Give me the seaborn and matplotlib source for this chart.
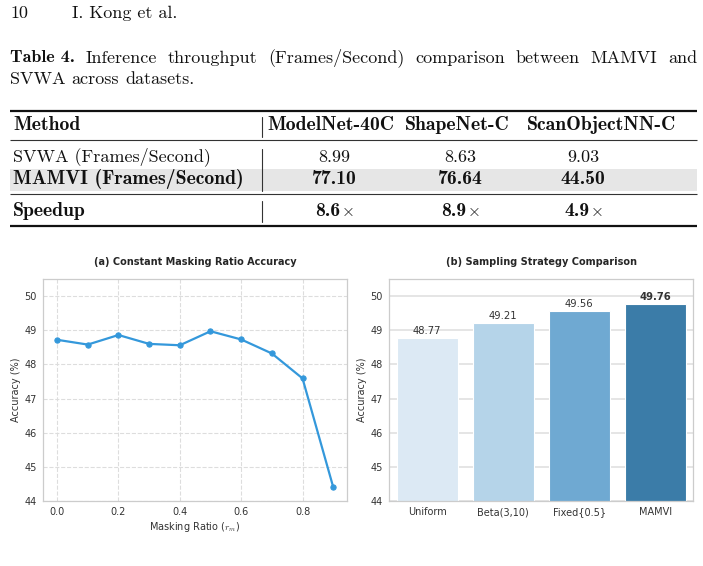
import numpy as np
import pandas as pd
import matplotlib
matplotlib.use("Agg")
import matplotlib.pyplot as plt
from matplotlib.patches import Rectangle
import seaborn as sns

# ---------------- data ----------------
running_page = "10"
running_head = "I. Kong et al."
caption_label = "Table 4."
caption_line1 = "Inference throughput (Frames/Second) comparison between MAMVI and"
caption_line2 = "SVWA across datasets."

table_method_header = "Method"
table_columns = ["ModelNet-40C", "ShapeNet-C", "ScanObjectNN-C"]
row_svwa_label = "SVWA (Frames/Second)"
row_mamvi_label = "MAMVI (Frames/Second)"
row_speedup_label = "Speedup"
svwa_fps = ["8.99", "8.63", "9.03"]
mamvi_fps = ["77.10", "76.64", "44.50"]
speedup = ["8.6", "8.9", "4.9"]

mask_ratio = [0.0, 0.1, 0.2, 0.3, 0.4, 0.5, 0.6, 0.7, 0.8, 0.9]
mask_acc = [48.72, 48.58, 48.86, 48.60, 48.56, 48.97, 48.73, 48.32, 47.59, 44.41]
mask_ticks = [0.0, 0.2, 0.4, 0.6, 0.8]

strategies = ["Uniform", "Beta(3,10)", "Fixed{0.5}", "MAMVI"]
strategy_acc = [48.77, 49.21, 49.56, 49.76]
bar_colors = ["#dce9f4", "#b5d4e9", "#6fa9d2", "#3b7ca8"]

# ---------------- figure ----------------
sns.set_theme(style="whitegrid")
plt.rcParams["mathtext.fontset"] = "cm"

W, H = 703, 566
fig = plt.figure(figsize=(W / 100, H / 100), dpi=100)
fig.patch.set_facecolor("white")

page = fig.add_axes([0, 0, 1, 1], zorder=0)
page.set_xlim(0, W)
page.set_ylim(H, 0)
page.axis("off")

SERIF = "cmr10"
BOLD = "cmb10"
FS_TXT = 13.0
FS_TAB = 13.0
FS_TAB_B = 14.2
INK = "#111111"
renderer = fig.canvas.get_renderer()


def width_px(t):
    return t.get_window_extent(renderer).width


def justify(words, x0, x1, y, fs, bold_first=None):
    items = []
    if bold_first is not None:
        items.append((bold_first, BOLD))
    items += [(w, SERIF) for w in words]
    texts = [page.text(0, y, s, family=f, fontsize=fs, va="center", ha="left",
                       color=INK) for s, f in items]
    widths = [width_px(t) for t in texts]
    gap = ((x1 - x0) - sum(widths)) / (len(texts) - 1)
    x = x0
    for t, w in zip(texts, widths):
        t.set_x(x)
        x += w + gap


def line(x0, y, s, fs):
    sp = page.text(0, y, "a a", family=SERIF, fontsize=fs)
    sp2 = page.text(0, y, "aa", family=SERIF, fontsize=fs)
    space = width_px(sp) - width_px(sp2)
    sp.remove(); sp2.remove()
    x = x0
    for w in s.split(" "):
        t = page.text(x, y, w, family=SERIF, fontsize=fs, va="center", ha="left", color=INK)
        x += width_px(t) + space


# running head
page.text(10, 13, running_page, family=SERIF, fontsize=FS_TXT, va="center", color=INK)
page.text(72, 13, running_head, family=SERIF, fontsize=FS_TXT, va="center", color=INK)

# caption
justify(caption_line1.split(" "), 10, 697, 58, FS_TXT, bold_first=caption_label)
line(10, 79, caption_line2, FS_TXT)

# table
TL, TR = 10, 697
page.plot([TL, TR], [110.5, 110.5], color=INK, lw=1.6, solid_capstyle="butt")
page.plot([TL, TR], [139.5, 139.5], color="#333333", lw=0.8, solid_capstyle="butt")
page.plot([TL, TR], [193.5, 193.5], color="#333333", lw=0.8, solid_capstyle="butt")
page.plot([TL, TR], [226, 226], color=INK, lw=1.6, solid_capstyle="butt")
page.add_patch(Rectangle((TL, 168.5), TR - TL, 22, facecolor="#e6e6e6", edgecolor="none", zorder=0))
for (y0, y1) in [(117, 137), (149, 191), (201, 222)]:
    page.plot([262, 262], [y0, y1], color="#333333", lw=0.8)

head_x = [331, 457, 601]
val_x = [334, 460, 583]
page.text(13, 125, table_method_header, family=BOLD, fontsize=FS_TAB_B, va="center", color=INK)
for x, c in zip(head_x, table_columns):
    page.text(x, 125, c, family=BOLD, fontsize=FS_TAB_B, va="center", ha="center", color=INK)
page.text(13, 157, row_svwa_label, family=SERIF, fontsize=FS_TAB, va="center", color=INK)
page.text(13, 179, row_mamvi_label, family=BOLD, fontsize=FS_TAB_B, va="center", color=INK)
page.text(13, 211, row_speedup_label, family=BOLD, fontsize=FS_TAB_B, va="center", color=INK)
for x, v in zip(val_x, svwa_fps):
    page.text(x, 157, v, family=SERIF, fontsize=FS_TAB, va="center", ha="center", color=INK)
for x, v in zip(val_x, mamvi_fps):
    page.text(x, 179, v, family=BOLD, fontsize=FS_TAB_B, va="center", ha="center", color=INK)
for x, v in zip(val_x, speedup):
    tnum = page.text(0, 211, v, family=BOLD, fontsize=FS_TAB_B, va="center", ha="left", color=INK)
    tx = page.text(0, 211, r"$\times$", fontsize=FS_TAB - 1, va="center", ha="left", color=INK)
    w1, w2 = width_px(tnum), width_px(tx)
    x0 = x - (w1 + w2) / 2
    tnum.set_x(x0)
    tx.set_x(x0 + w1 + 1)

# ---------------- subplot (a) ----------------
TICK_FS = 7.0
LAB_FS = 7.0
TITLE_FS = 7.0
ANN_FS = 7.2
TXT = "#333333"

ax1 = fig.add_axes([43.3 / W, 1 - 501 / H, 303.7 / W, 222 / H], zorder=2)
df_a = pd.DataFrame({"ratio": mask_ratio, "acc": mask_acc})
sns.lineplot(data=df_a, x="ratio", y="acc", ax=ax1, marker="o", color="#3498db",
             linewidth=1.6, markersize=3.8, markeredgecolor="#3498db")
ax1.set_ylim(44, 50.5)
ax1.set_xticks(mask_ticks)
ax1.set_xticklabels([f"{t:.1f}" for t in mask_ticks])
ax1.set_yticks([44, 45, 46, 47, 48, 49, 50])
ax1.grid(True, linestyle="--", color="#dddddd", linewidth=0.8)
ax1.set_title("(a) Constant Masking Ratio Accuracy", fontsize=TITLE_FS, fontweight="bold",
              pad=10, color="#262626")
ax1.set_xlabel(r"Masking Ratio ($r_m$)", fontsize=LAB_FS, labelpad=2, color=TXT)
ax1.set_ylabel("Accuracy (%)", fontsize=LAB_FS, labelpad=3, color=TXT)
ax1.tick_params(labelsize=TICK_FS, colors=TXT, pad=4.5, length=0)
for s in ax1.spines.values():
    s.set_color("#cccccc")
    s.set_linewidth(0.9)

# ---------------- subplot (b) ----------------
ax2 = fig.add_axes([389.3 / W, 1 - 501 / H, 304 / W, 222 / H], zorder=2)
df_b = pd.DataFrame({"strategy": strategies, "acc": strategy_acc})
sns.barplot(data=df_b, x="strategy", y="acc", hue="strategy", palette=bar_colors,
            ax=ax2, legend=False, saturation=1, edgecolor="white", linewidth=0.8)
ax2.set_ylim(44, 50.5)
ax2.set_yticks([44, 45, 46, 47, 48, 49, 50])
ax2.yaxis.grid(True, color="#e3e3e3", linewidth=1.3)
ax2.xaxis.grid(False)
ax2.set_axisbelow(True)
ax2.set_title("(b) Sampling Strategy Comparison", fontsize=TITLE_FS, fontweight="bold",
              pad=10, color="#262626")
ax2.set_xlabel("")
ax2.set_ylabel("Accuracy (%)", fontsize=LAB_FS, labelpad=3, color=TXT)
ax2.tick_params(labelsize=TICK_FS, colors=TXT, pad=4.5, length=0)
for s in ax2.spines.values():
    s.set_color("#cccccc")
    s.set_linewidth(0.9)
n = len(ax2.containers)
for i, cont in enumerate(ax2.containers):
    labs = ax2.bar_label(cont, fmt="%.2f", padding=1.5, fontsize=ANN_FS, color=TXT)
    if i == n - 1:
        for t in labs:
            t.set_fontweight("bold")

fig.savefig("out.png", dpi=100, facecolor="white")
